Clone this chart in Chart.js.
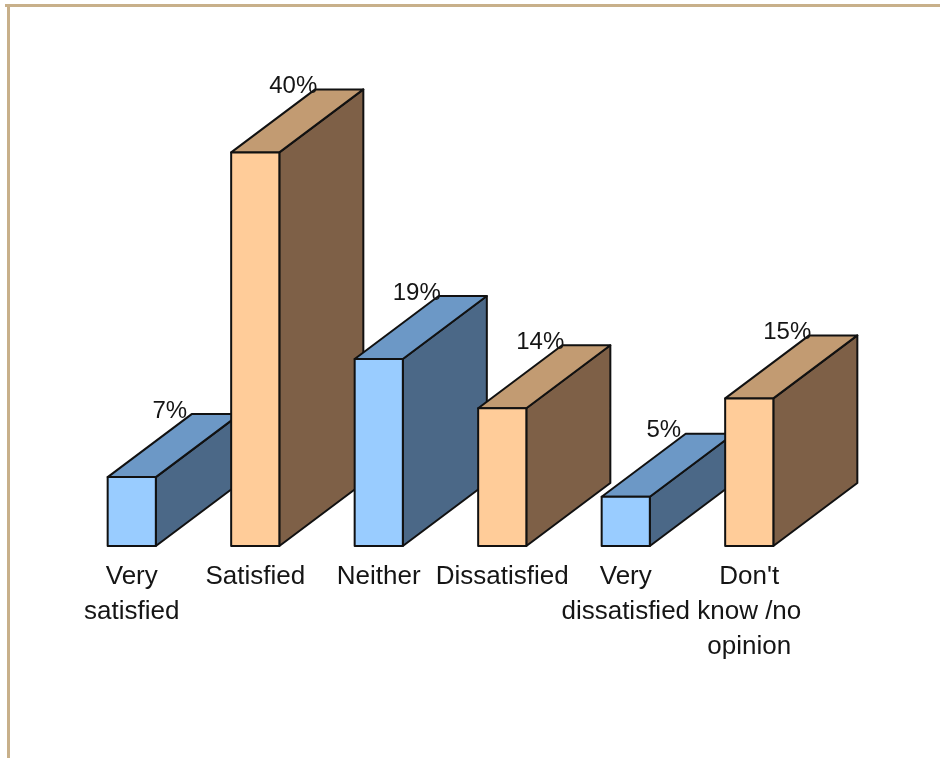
<!DOCTYPE html>
<html>
<head>
<meta charset="utf-8">
<script src="https://cdn.jsdelivr.net/npm/chart.js@4.4.1/dist/chart.umd.min.js"></script>
<style>
  html, body { margin: 0; padding: 0; background: #fff; }
  #wrap { position: relative; width: 940px; height: 758px; }
</style>
</head>
<body>
<div id="wrap"><canvas id="myChart" width="940" height="758"></canvas></div>
<script>
// data
const categories = [
  ['Very', 'satisfied'],
  ['Satisfied'],
  ['Neither'],
  ['Dissatisfied'],
  ['Very', 'dissatisfied'],
  ["Don't", 'know /no', 'opinion']
];
const percents = [7, 40, 19, 14, 5, 15];

// styling
const blue = { front: '#99ccff', top: '#6c98c6', side: '#4b6887' };
const tan = { front: '#ffcc99', top: '#c29b72', side: '#7e6047' };
const faces = [blue, tan, blue, tan, blue, tan];
const depthX = 84, depthY = -63;
const fontFamily = "'Liberation Sans', Arial, sans-serif";

const bars3d = {
  id: 'bars3d',
  beforeDraw(chart) {
    const c = chart.ctx;
    c.save();
    c.strokeStyle = '#c8b08a';
    c.lineWidth = 3;
    c.beginPath();
    c.moveTo(5, 5.5);
    c.lineTo(940, 5.5);
    c.moveTo(8.5, 5);
    c.lineTo(8.5, 758);
    c.stroke();
    c.restore();
  },
  afterDatasetsDraw(chart) {
    const c = chart.ctx;
    const meta = chart.getDatasetMeta(0);
    c.save();
    c.lineWidth = 2;
    c.lineJoin = 'round';
    c.strokeStyle = '#111';
    meta.data.forEach((bar, i) => {
      const p = bar.getProps(['x', 'y', 'base', 'width'], true);
      const l = p.x - p.width / 2, r = p.x + p.width / 2;
      const t = p.y, b = p.base;
      const f = faces[i];
      // side
      c.beginPath();
      c.moveTo(r, t); c.lineTo(r + depthX, t + depthY);
      c.lineTo(r + depthX, b + depthY); c.lineTo(r, b); c.closePath();
      c.fillStyle = f.side; c.fill(); c.stroke();
      // top
      c.beginPath();
      c.moveTo(l, t); c.lineTo(l + depthX, t + depthY);
      c.lineTo(r + depthX, t + depthY); c.lineTo(r, t); c.closePath();
      c.fillStyle = f.top; c.fill(); c.stroke();
      // front
      c.beginPath();
      c.rect(l, t, r - l, b - t);
      c.fillStyle = f.front; c.fill(); c.stroke();
    });
    c.fillStyle = '#151515';
    c.font = '24px ' + fontFamily;
    c.textAlign = 'center';
    c.textBaseline = 'middle';
    meta.data.forEach((bar, i) => {
      const p = bar.getProps(['x', 'y'], true);
      c.fillText(percents[i] + '%', p.x + 38, p.y + depthY - 3);
    });
    c.restore();
  }
};

const ctx = document.getElementById('myChart').getContext('2d');
new Chart(ctx, {
  type: 'bar',
  data: {
    labels: categories,
    datasets: [{
      data: percents,
      backgroundColor: faces.map(f => f.front),
      borderWidth: 0,
      barPercentage: 0.39,
      categoryPercentage: 1
    }]
  },
  options: {
    responsive: false,
    animation: false,
    events: [],
    layout: { padding: { left: 70, right: 129, top: 54, bottom: 0 } },
    plugins: { legend: { display: false }, tooltip: { enabled: false } },
    scales: {
      x: {
        grid: { display: false, drawTicks: false },
        border: { display: false },
        ticks: {
          padding: 14,
          color: '#151515',
          maxRotation: 0,
          autoSkip: false,
          font: { family: fontFamily, size: 26, lineHeight: 1.33 }
        },
        afterFit(scale) { scale.height = 212; }
      },
      y: { display: false, min: 0, max: 50 }
    }
  },
  plugins: [bars3d]
});
</script>
</body>
</html>
